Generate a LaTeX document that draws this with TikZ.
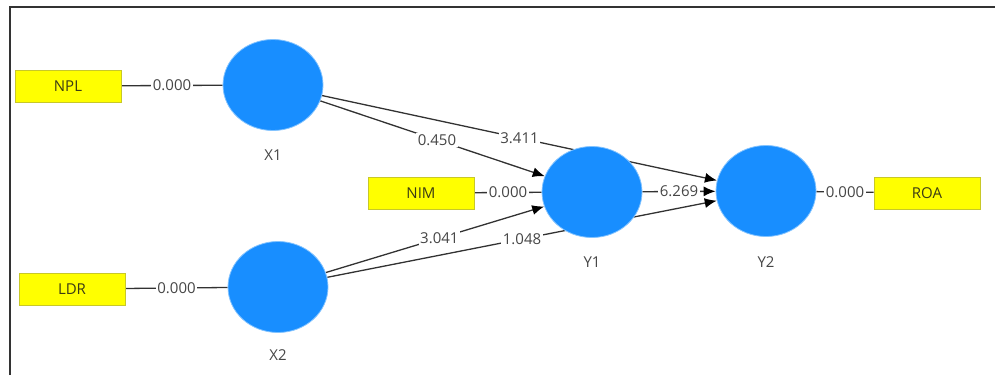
\documentclass[tikz,border=0pt]{standalone}
\usepackage{fontspec}
\setmainfont{Open Sans}
\usetikzlibrary{shapes.geometric,arrows.meta,backgrounds}
\definecolor{lv}{RGB}{24,142,255}
\definecolor{lvedge}{RGB}{130,195,255}
\definecolor{mv}{RGB}{255,255,0}
\definecolor{mvedge}{RGB}{200,200,40}
\definecolor{mvtext}{RGB}{60,60,20}
\definecolor{ln}{RGB}{50,50,50}
\definecolor{lbl}{RGB}{70,70,70}
\begin{document}
\begin{tikzpicture}[x=1pt,y=-1pt,
  latent/.style={ellipse, fill=lv, draw=lvedge, line width=0.8pt, minimum width=100pt, minimum height=91pt, inner sep=0pt},
  indicator/.style={rectangle, fill=mv, draw=mvedge, line width=0.8pt, minimum width=106pt, minimum height=32pt, inner sep=0pt, text=mvtext, font=\fontsize{15}{18}\selectfont},
  latlabel/.style={text=lbl, font=\fontsize{15}{18}\selectfont},
  conn/.style={draw=ln, line width=1.3pt},
  arr/.style={conn, -{Latex[length=12pt,width=10pt,color=black]}},
  coef/.style={fill=white, inner sep=1.5pt, text=lbl, font=\fontsize{15}{18}\selectfont}]
\useasboundingbox (0,0) rectangle (995,375);
\draw[line width=2.2pt, black!80] (10,375) -- (10,7) -- (995,7);

\node[indicator] (NPL) at (68,86) {NPL};
\node[indicator] (LDR) at (72,289) {LDR};
\node[indicator] (NIM) at (421,193) {NIM};
\node[indicator] (ROA) at (927,193) {ROA};

\node[latent] (X1) at (273,85) {};
\node[latent] (X2) at (278,287) {};
\node[latent] (Y1) at (592,192) {};
\node[latent] (Y2) at (766,191) {};

\node[latlabel] (lX1) at (273,155) {X1};
\node[latlabel] (lX2) at (278,355) {X2};
\node[latlabel] (lY1) at (592,262) {Y1};
\node[latlabel] (lY2) at (766,262) {Y2};

\begin{scope}[on background layer]
\draw[conn] (NPL) -- node[coef] {0.000} (X1);
\draw[conn] (LDR) -- node[coef] {0.000} (X2);
\draw[conn] (NIM) -- node[coef] {0.000} (Y1);
\draw[conn] (Y2) -- node[coef] {0.000} (ROA);

\draw[arr] (X1) -- node[coef,pos=0.52] {0.450} (Y1);
\draw[arr] (X1) -- node[coef,pos=0.50] {3.411} (Y2);
\draw[arr] (X2) -- node[coef,pos=0.52] {3.041} (Y1);
\draw[arr] (X2) -- node[coef,pos=0.50] {1.048} (Y2);
\draw[arr] (Y1) -- node[coef] {6.269} (Y2);
\end{scope}
\end{tikzpicture}
\end{document}
